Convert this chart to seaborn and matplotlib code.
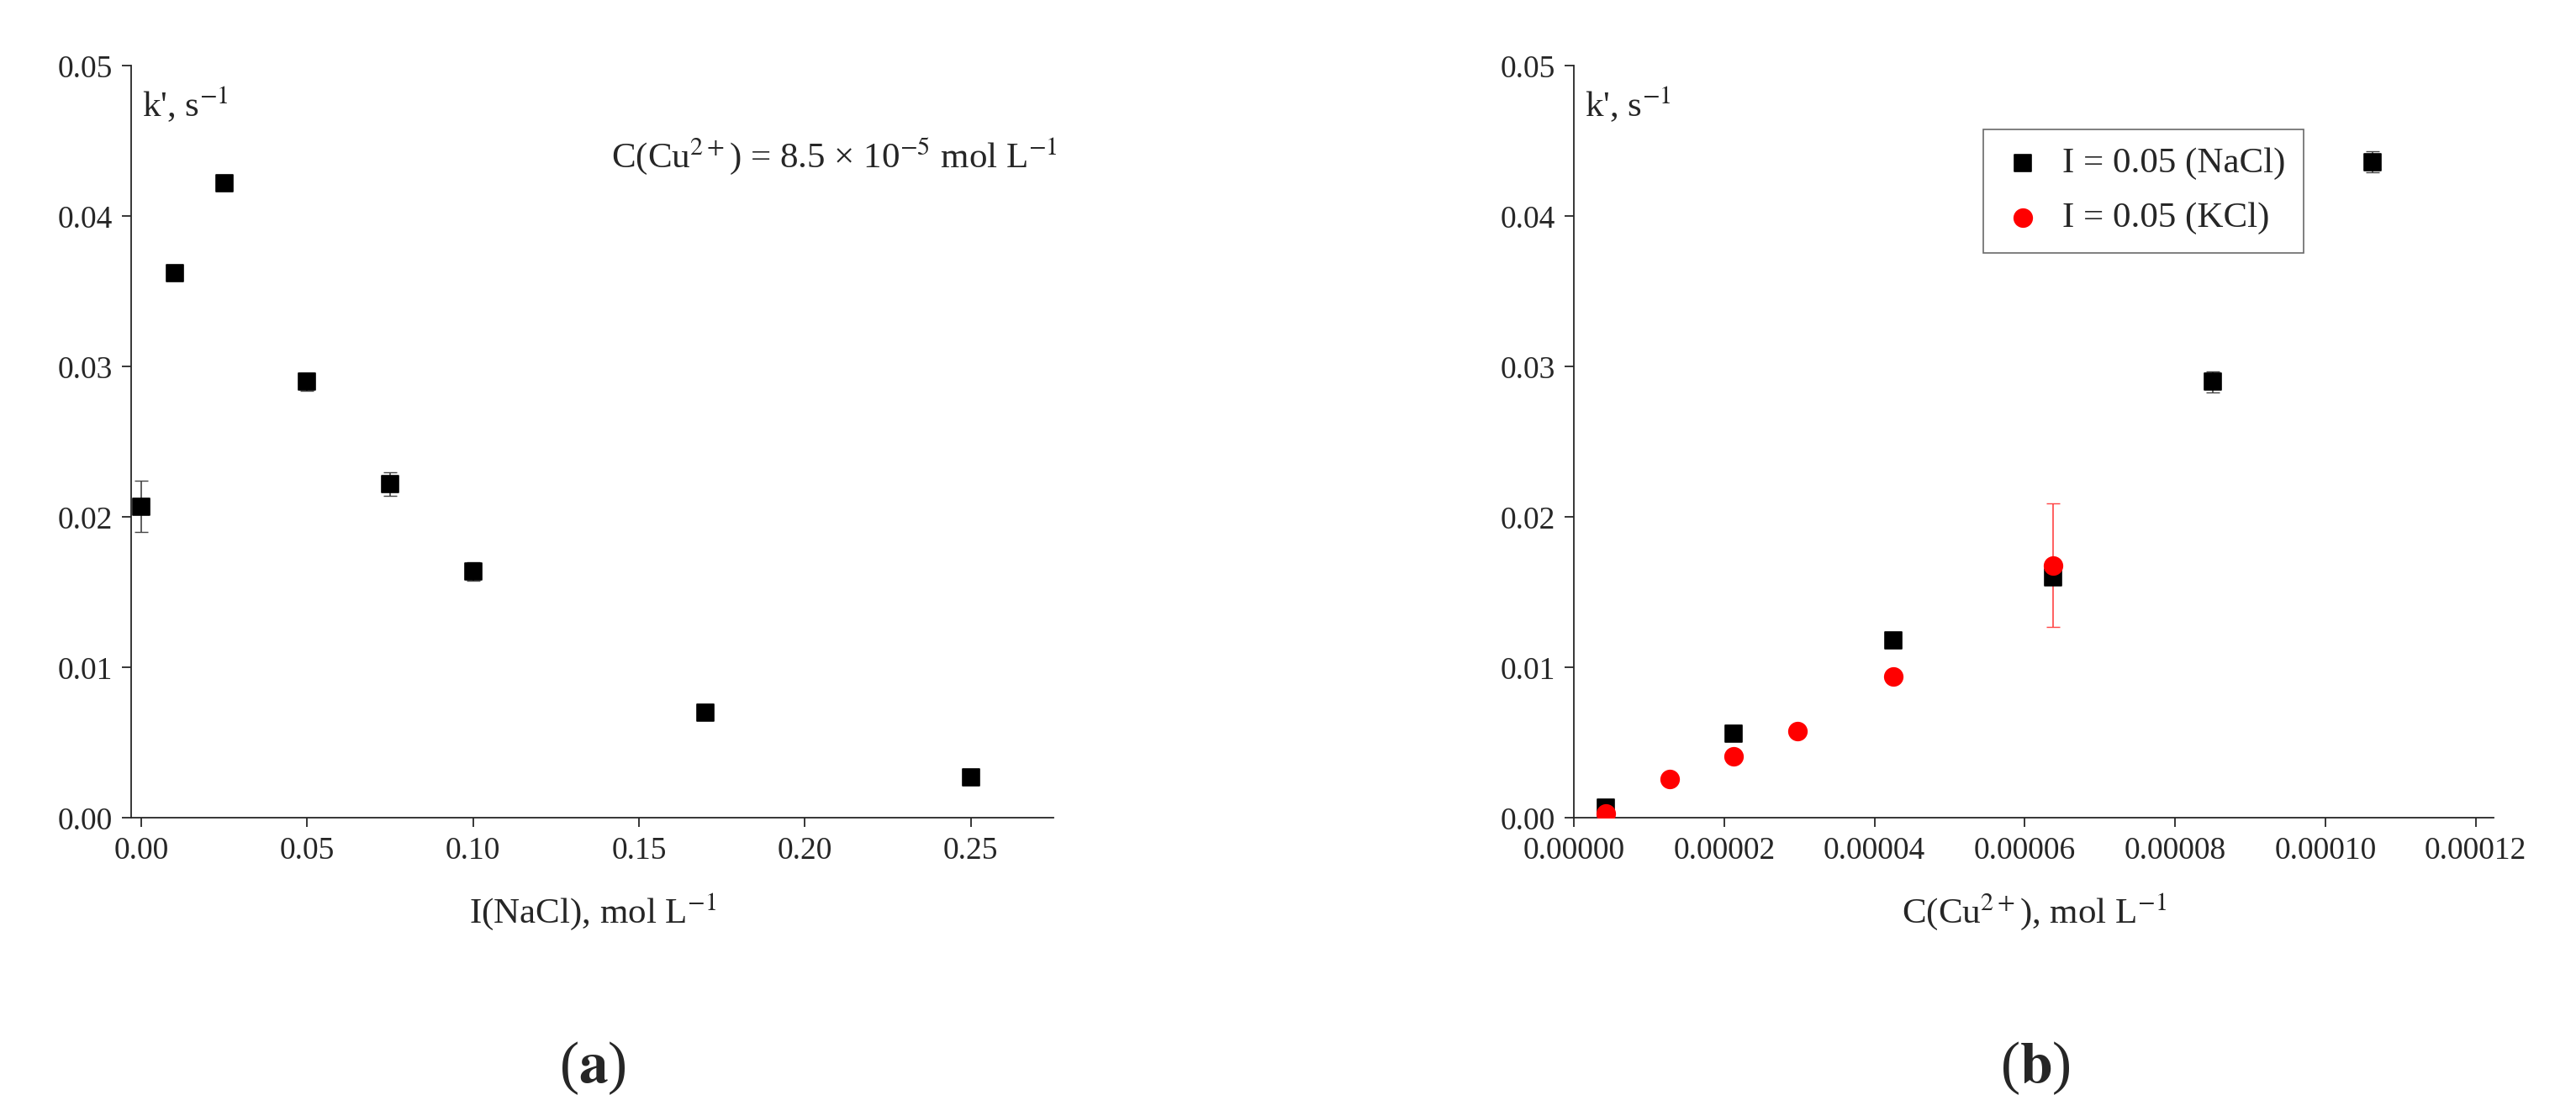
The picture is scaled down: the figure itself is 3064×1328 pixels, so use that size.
import matplotlib
matplotlib.use("Agg")
import matplotlib.pyplot as plt
import seaborn as sns
import pandas as pd

# Panel (a)
I_nacl = [0.0, 0.01, 0.025, 0.05, 0.075, 0.10, 0.17, 0.25]
k_a = [0.0207, 0.0362, 0.0422, 0.0290, 0.0222, 0.0164, 0.0070, 0.0027]
err_a = [0.0017, 0.0003, 0.0003, 0.0006, 0.0008, 0.0006, 0.0002, 0.0002]

# Panel (b)
c_nacl = [4.25e-6, 21.3e-6, 42.5e-6, 63.8e-6, 85.0e-6, 106.3e-6]
k_nacl = [0.0007, 0.0056, 0.0118, 0.0160, 0.0290, 0.0436]
err_nacl = [0.0002, 0.0002, 0.0002, 0.0003, 0.0007, 0.0007]
c_kcl = [4.25e-6, 12.75e-6, 21.3e-6, 29.75e-6, 42.5e-6, 63.8e-6]
k_kcl = [0.0003, 0.0026, 0.0041, 0.0058, 0.0094, 0.0168]
err_kcl = [0.0001, 0.0001, 0.0001, 0.0001, 0.0001, 0.0041]

sns.set_style("ticks")
plt.rcParams['font.family'] = ['Liberation Serif', 'DejaVu Serif']
plt.rcParams['mathtext.fontset'] = 'stix'

fig = plt.figure(figsize=(30.64, 13.28), dpi=100)
axa = fig.add_axes([0.051, 0.267, 0.358, 0.674])
axb = fig.add_axes([0.611, 0.267, 0.357, 0.674])

fs_tick, fs_lab = 27, 31

dfa = pd.DataFrame({"x": I_nacl, "y": k_a})
axa.errorbar(I_nacl, k_a, yerr=err_a, fmt='none', ecolor='#444444', elinewidth=1.2, capsize=6)
sns.scatterplot(data=dfa, x="x", y="y", marker="s", color="black", s=220, edgecolor="black", ax=axa, zorder=3)
axa.set_xlim(-0.003, 0.275)
axa.set_ylim(0, 0.05)
axa.set_xticks([0, 0.05, 0.10, 0.15, 0.20, 0.25])
axa.set_xticklabels(["0.00", "0.05", "0.10", "0.15", "0.20", "0.25"])
axa.set_yticks([0, 0.01, 0.02, 0.03, 0.04, 0.05])
axa.set_yticklabels(["0.00", "0.01", "0.02", "0.03", "0.04", "0.05"])
axa.set_xlabel(r"I(NaCl), mol L$^{-1}$", fontsize=fs_lab, labelpad=22)
axa.set_ylabel("")
axa.text(0.012, 0.975, r"k', s$^{-1}$", transform=axa.transAxes, fontsize=fs_lab, va='top')
axa.text(0.52, 0.88, r"C(Cu$^{2+}$) = 8.5 × 10$^{-5}$ mol L$^{-1}$", transform=axa.transAxes, fontsize=fs_lab, va='center')

dfn = pd.DataFrame({"x": c_nacl, "y": k_nacl})
dfk = pd.DataFrame({"x": c_kcl, "y": k_kcl})
axb.errorbar(c_nacl, k_nacl, yerr=err_nacl, fmt='none', ecolor='#444444', elinewidth=1.2, capsize=6)
axb.errorbar(c_kcl, k_kcl, yerr=err_kcl, fmt='none', ecolor='#ff4444', elinewidth=1.2, capsize=6)
sns.scatterplot(data=dfn, x="x", y="y", marker="s", color="black", s=220, edgecolor="black", ax=axb, zorder=3, label="I = 0.05 (NaCl)")
sns.scatterplot(data=dfk, x="x", y="y", marker="o", color="#ff0000", s=240, edgecolor="#ff0000", ax=axb, zorder=4, label="I = 0.05 (KCl)")
axb.set_xlim(0, 0.0001224)
axb.set_ylim(0, 0.05)
xt = [0, 0.00002, 0.00004, 0.00006, 0.00008, 0.00010, 0.00012]
axb.set_xticks(xt)
axb.set_xticklabels([f"{v:.5f}" for v in xt])
axb.set_yticks([0, 0.01, 0.02, 0.03, 0.04, 0.05])
axb.set_yticklabels(["0.00", "0.01", "0.02", "0.03", "0.04", "0.05"])
axb.set_xlabel(r"C(Cu$^{2+}$), mol L$^{-1}$", fontsize=fs_lab, labelpad=22)
axb.set_ylabel("")
axb.text(0.012, 0.975, r"k', s$^{-1}$", transform=axb.transAxes, fontsize=fs_lab, va='top')
leg = axb.legend(loc='upper left', bbox_to_anchor=(0.425, 0.94), fontsize=fs_lab, frameon=True,
                 fancybox=False, edgecolor='#444444', handletextpad=0.5, borderpad=0.5, labelspacing=0.6,
                 handlelength=1.2)
leg.get_frame().set_linewidth(1.2)

for ax in (axa, axb):
    sns.despine(ax=ax)
    ax.tick_params(labelsize=fs_tick, direction='out', length=8, width=1.3, pad=8)
    for sp in ax.spines.values():
        sp.set_linewidth(1.3)

fig.text(0.23, 0.03, r"($\mathbf{a}$)", fontsize=50, ha='center')
fig.text(0.79, 0.03, r"($\mathbf{b}$)", fontsize=50, ha='center')

fig.savefig("out.png", dpi=100)
